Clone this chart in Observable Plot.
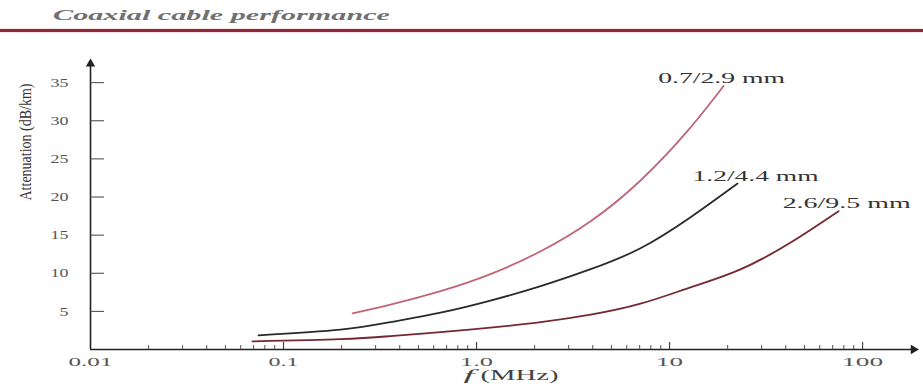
<!DOCTYPE html>
<html><head><meta charset="utf-8">
<script src="https://cdn.jsdelivr.net/npm/d3@7"></script>
<script src="https://cdn.jsdelivr.net/npm/@observablehq/plot@0.6"></script>
<style>
body{margin:0;background:#fff;width:923px;height:384px;overflow:hidden;font-family:"Liberation Serif",serif}
#header{position:relative;height:36px;}
#title{position:absolute;left:53px;top:7px;font-style:italic;font-weight:bold;font-size:15px;color:#707070;transform-origin:0 0;white-space:nowrap;line-height:17px}
#rule{position:absolute;left:0;top:29px;width:923px;height:3px;background:#8e2838;box-shadow:0 0 2px #e8a0aa;}
</style></head><body>
<div id="header"><span id="title">Coaxial cable performance</span><div id="rule"></div></div>
<div id="chart"></div>
<script>
// ---- data ----
const seriesNames = ["0.7/2.9 mm", "1.2/4.4 mm", "2.6/9.5 mm"];
const freq07 = [0.228, 0.358, 0.651, 1.18, 2.15, 3.90, 7.07, 12.4, 19.05];
const att07  = [4.74, 5.88, 7.65, 9.88, 12.89, 16.82, 22.17, 28.67, 34.56];
const freq12 = [0.0742, 0.197, 0.358, 0.651, 1.18, 2.15, 3.90, 7.07, 12.85, 22.5];
const att12  = [1.86, 2.61, 3.59, 4.83, 6.41, 8.31, 10.53, 13.28, 17.35, 21.77];
const freq26 = [0.069, 0.197, 0.358, 0.651, 1.18, 2.15, 3.90, 7.07, 12.85, 23.3, 42.4, 75.1];
const att26  = [1.07, 1.36, 1.76, 2.28, 2.87, 3.59, 4.57, 6.01, 8.15, 10.51, 14.04, 18.15];
const xTickValues = [0.01, 0.1, 1, 10, 100];
const xTickLabels = ["0.01", "0.1", "1.0", "10", "100"];
const yTickValues = [5, 10, 15, 20, 25, 30, 35];
const xMinorTicks = [0.02,0.03,0.04,0.05,0.06,0.07,0.08,0.09,0.2,0.3,0.4,0.5,0.6,0.7,0.8,0.9,2,3,4,5,6,7,8,9,20,30,40,50,60,70,80,90];
const xMajorTicks = [0.1, 1, 10, 100];
const yLabel = "Attenuation (dB/km)";
const xLabelF = "f";
const xLabelUnit = "(MHz)";
const xMax = 188, yMax = 38.3;

// ---- styles ----
const colors = ["#c06676", "#2a2a2a", "#742834"];
const labelOffsets = [[-2, -3], [18, -3], [8, -3]];

const freqs = [freq07, freq12, freq26];
const atts = [att07, att12, att26];
const rows = [];
seriesNames.forEach((s, k) => freqs[k].forEach((f, i) => rows.push({series: s, f, a: atts[k][i]})));
const ends = seriesNames.map((s, k) => ({series: s, f: freqs[k][freqs[k].length - 1], a: atts[k][atts[k].length - 1], k}));

const W = 923, H = 348, mL = 90, mR = 8, mT = 21, mB = 35;
const frameW = W - mL - mR, frameH = H - mT - mB;

// stretched widths of the lettering, as in the scanned original
const widthsX = {"0.01": 44, "0.1": 30, "1.0": 33, "10": 27, "100": 41};
const widthsY = {"5": 9, "10": 18, "15": 18, "20": 18, "25": 18, "30": 18, "35": 18};
const widthsOther = {"Attenuation (dB/km)": 117, "0.7/2.9 mm": 127, "1.2/4.4 mm": 126, "2.6/9.5 mm": 128, "f": 11, "(MHz)": 78};

const marks = [];
seriesNames.forEach((s, k) => {
  marks.push(Plot.line(rows.filter(r => r.series === s), {x: "f", y: "a", stroke: colors[k], strokeWidth: 1.8, curve: "natural"}));
});
marks.push(Plot.ruleX([xTickValues[0]], {stroke: "#222", strokeWidth: 1.6, insetTop: 6}));
marks.push(Plot.ruleY([0], {stroke: "#222", strokeWidth: 1.4, insetRight: 4}));
marks.push(Plot.dot([{f: xTickValues[0], a: yMax}], {x: "f", y: "a", symbol: "triangle", r: 3.5, fill: "#222", stroke: "none", dy: 6.4}));
marks.push(Plot.dot([{f: xMax, a: 0}], {x: "f", y: "a", symbol: "triangle", r: 3.5, fill: "#222", stroke: "none", rotate: 90, dx: -2}));
marks.push(Plot.tickY(yTickValues, {y: d => d, insetRight: frameW - 14, stroke: "#444", strokeWidth: 1}));
marks.push(Plot.tickX(xMinorTicks, {x: d => d, insetTop: frameH - 4, stroke: "#555", strokeWidth: 1}));
marks.push(Plot.tickX(xMajorTicks, {x: d => d, insetTop: frameH - 7, stroke: "#444", strokeWidth: 1.2}));
marks.push(Plot.axisX({ticks: xTickValues, tickFormat: d => xTickLabels[xTickValues.indexOf(d)], tickSize: 0, tickPadding: 7, color: "#555", fontSize: 13, label: null}));
marks.push(Plot.text(yTickValues.filter(d => widthsY[String(d)] === 9), {y: d => d, frameAnchor: "left", dx: -22 - 9, textAnchor: "start", text: d => String(d), fill: "#555", fontSize: 13}));
marks.push(Plot.text(yTickValues.filter(d => widthsY[String(d)] === 18), {y: d => d, frameAnchor: "left", dx: -22 - 18, textAnchor: "start", text: d => String(d), fill: "#555", fontSize: 13}));
marks.push(Plot.text([yLabel], {frameAnchor: "left", dx: -65, dy: -3, rotate: -90, text: d => d, fill: "#333", fontSize: 17}));
marks.push(Plot.text([xLabelF], {frameAnchor: "bottom", dx: 472 - (mL + frameW / 2), dy: 30, textAnchor: "end", text: d => d, fill: "#444", fontSize: 14, fontStyle: "italic"}));
marks.push(Plot.text([xLabelUnit], {frameAnchor: "bottom", dx: 480 - (mL + frameW / 2), dy: 30, textAnchor: "start", text: d => d, fill: "#444", fontSize: 14}));
ends.forEach(e => {
  marks.push(Plot.text([e], {x: "f", y: "a", text: "series", dx: labelOffsets[e.k][0], dy: labelOffsets[e.k][1], fill: "#333", fontSize: 14, textAnchor: "middle", lineAnchor: "bottom"}));
});

const chart = Plot.plot({
  width: W, height: H,
  marginLeft: mL, marginRight: mR, marginTop: mT, marginBottom: mB,
  x: {type: "log", domain: [xTickValues[0], xMax], axis: null},
  y: {domain: [0, yMax], axis: null},
  style: {fontFamily: "Liberation Serif", background: "#fff", overflow: "visible"},
  marks
});
document.getElementById("chart").appendChild(chart);

chart.querySelectorAll("text").forEach(t => {
  const g = t.closest("g[aria-label]");
  const lab = g ? g.getAttribute("aria-label") : "";
  const s = t.textContent;
  let w;
  if (lab.startsWith("x-axis")) w = widthsX[s];
  else if (widthsY[s]) w = widthsY[s];
  else w = widthsOther[s];
  if (!w) return;
  const anchor = getComputedStyle(t).textAnchor;
  if (anchor !== "start") {
    const bb = t.getBBox();
    let start = bb.x;
    if (anchor === "end") start = bb.x + bb.width - w;
    else if (anchor === "middle") start = bb.x + bb.width / 2 - w / 2;
    t.setAttribute("text-anchor", "start");
    t.setAttribute("x", start);
  }
  t.setAttribute("textLength", w);
  t.setAttribute("lengthAdjust", "spacingAndGlyphs");
});
const title = document.getElementById("title");
const tw = title.getBoundingClientRect().width;
title.style.transform = `scaleX(${337 / tw})`;
</script>
</body></html>
